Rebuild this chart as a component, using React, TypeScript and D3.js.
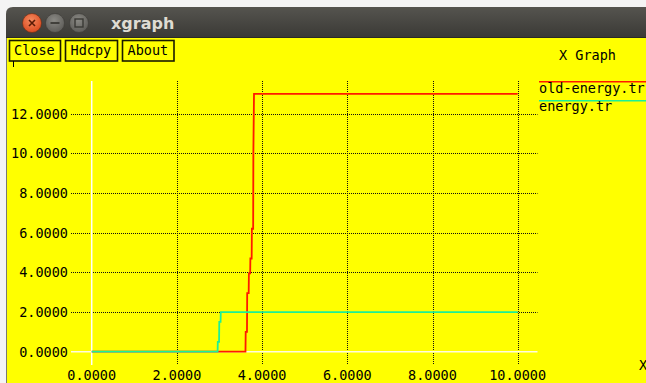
import React from "react";
import * as d3 from "d3";

// ---- data ----
const xTicks = [0, 2, 4, 6, 8, 10];
const yTicks = [0, 2, 4, 6, 8, 10, 12];
const seriesNames = ["old-energy.tr", "energy.tr"];
const oldX = [0, 3.61, 3.615, 3.645, 3.65, 3.685, 3.69, 3.72, 3.725, 3.755, 3.76, 3.79, 3.795, 3.81, 10];
const oldY = [0, 0, 1.0, 1.0, 2.95, 2.95, 3.95, 3.95, 4.7, 4.7, 6.2, 6.2, 10.0, 13.0, 13.0];
const newX = [0, 2.955, 2.96, 2.99, 2.995, 3.025, 3.03, 10];
const newY = [0, 0, 0.5, 0.5, 1.5, 1.5, 2.0, 2.0];
const buttonLabels = ["Close", "Hdcpy", "About"];

const W = 646;
const H = 383;
const MONO = "'DejaVu Sans Mono', monospace";
const RED = "#ff1a00";
const GREEN = "#1cf096";

export default function App() {
  const xs = d3.scaleLinear().domain([0, 10]).range([91.7, 517.7]);
  const ys = d3.scaleLinear().domain([0, 12]).range([351.7, 113.7]);
  const line = d3
    .line<[number, number]>()
    .x((d) => xs(d[0]))
    .y((d) => ys(d[1]));
  const oldPts = oldX.map((x, i) => [x, oldY[i]] as [number, number]);
  const newPts = newX.map((x, i) => [x, newY[i]] as [number, number]);

  const gridLeft = 71;
  const gridRight = 537.5;
  const gridTop = 81;
  const gridBottom = 365;

  const btnBoxes = [
    { x: 9.5, w: 51, tx: 14 },
    { x: 65.5, w: 52, tx: 70.5 },
    { x: 122.5, w: 51.5, tx: 127.5 },
  ];

  const fmt = d3.format(".4f");

  return (
    <svg
      width={W}
      height={H}
      style={{ position: "absolute", left: 0, top: 0, display: "block" }}
      xmlns="http://www.w3.org/2000/svg"
    >
      <defs>
        <linearGradient id="tb" x1="0" y1="0" x2="0" y2="1">
          <stop offset="0" stopColor="#55544f" />
          <stop offset="1" stopColor="#3a3935" />
        </linearGradient>
        <radialGradient id="cls" cx="0.45" cy="0.35" r="0.7">
          <stop offset="0" stopColor="#f58a5e" />
          <stop offset="1" stopColor="#d9461c" />
        </radialGradient>
        <radialGradient id="gbtn" cx="0.45" cy="0.35" r="0.7">
          <stop offset="0" stopColor="#8a8984" />
          <stop offset="1" stopColor="#5a5955" />
        </radialGradient>
      </defs>
      {/* outer background */}
      <rect x={0} y={0} width={W} height={H} fill="#f4f4f4" />
      {/* title bar */}
      <path d={`M6,38 L6,14 Q6,7 13,7 L${W},7 L${W},38 Z`} fill="url(#tb)" />
      <line x1={6} y1={37.5} x2={W} y2={37.5} stroke="#2a2a26" strokeWidth={1} />
      <circle cx={32} cy={23} r={9.5} fill="url(#cls)" stroke="#6a2a10" strokeWidth={0.6} />
      <path d="M29,20 L35,26 M35,20 L29,26" stroke="#5a1a05" strokeWidth={1.6} />
      <circle cx={55} cy={23} r={9.5} fill="url(#gbtn)" stroke="#3a3935" strokeWidth={0.6} />
      <line x1={50.5} y1={23} x2={59.5} y2={23} stroke="#3a3935" strokeWidth={1.8} />
      <circle cx={79} cy={23} r={9.5} fill="url(#gbtn)" stroke="#3a3935" strokeWidth={0.6} />
      <rect x={75} y={19} width={8} height={8} fill="none" stroke="#3a3935" strokeWidth={1.4} />
      <text
        x={111}
        y={29}
        fill="#dfdbd2"
        fontFamily="'DejaVu Sans', sans-serif"
        fontWeight="bold"
        fontSize={16}
      >
        xgraph
      </text>
      {/* window body */}
      <rect x={6} y={38} width={W - 6} height={H - 38} fill="#ffff00" />
      <line x1={6.5} y1={38} x2={6.5} y2={H} stroke="#7a7a70" strokeWidth={1} />

      {/* buttons */}
      {buttonLabels.map((b, i) => (
        <g key={b}>
          <rect
            x={btnBoxes[i].x}
            y={40.5}
            width={btnBoxes[i].w}
            height={20.5}
            fill="none"
            stroke="#1a1a00"
            strokeWidth={1.6}
          />
          <text x={btnBoxes[i].tx} y={55} fontFamily={MONO} fontSize={13.5} fill="#000">
            {b}
          </text>
        </g>
      ))}
      <line x1={13.5} y1={61} x2={13.5} y2={67} stroke="#000" strokeWidth={1} />

      <text x={559} y={59.5} fontFamily={MONO} fontSize={13.5} fill="#000">
        X Graph
      </text>

      {/* grid */}
      {yTicks
        .filter((v) => v !== 0)
        .map((v) => (
          <line
            key={"hy" + v}
            x1={gridLeft}
            x2={gridRight}
            y1={Math.round(ys(v)) + 0.5}
            y2={Math.round(ys(v)) + 0.5}
            stroke="#111"
            strokeWidth={1}
            strokeDasharray="1,1"
          />
        ))}
      {xTicks
        .filter((v) => v !== 0)
        .map((v) => (
          <line
            key={"vx" + v}
            x1={Math.round(xs(v)) + 0.5}
            x2={Math.round(xs(v)) + 0.5}
            y1={gridTop}
            y2={gridBottom}
            stroke="#111"
            strokeWidth={1}
            strokeDasharray="1,1"
          />
        ))}
      {/* zero lines */}
      <line
        x1={gridLeft}
        x2={gridRight}
        y1={ys(0)}
        y2={ys(0)}
        stroke="#fffbe0"
        strokeWidth={1.5}
      />
      <line
        x1={xs(0)}
        x2={xs(0)}
        y1={gridTop}
        y2={gridBottom}
        stroke="#ffffff"
        strokeWidth={1.5}
      />

      {/* tick labels */}
      {yTicks.map((v) => (
        <text
          key={"yl" + v}
          x={68}
          y={ys(v) + 4.8}
          textAnchor="end"
          fontFamily={MONO}
          fontSize={13.5}
          fill="#000"
        >
          {fmt(v)}
        </text>
      ))}
      {xTicks.map((v) => (
        <text
          key={"xl" + v}
          x={xs(v)}
          y={380}
          textAnchor="middle"
          fontFamily={MONO}
          fontSize={13.5}
          fill="#000"
        >
          {fmt(v)}
        </text>
      ))}
      <text x={639} y={370} fontFamily={MONO} fontSize={13.5} fill="#000">
        X
      </text>

      {/* data */}
      <path d={line(oldPts) || ""} fill="none" stroke={RED} strokeWidth={1.8} />
      <path d={line(newPts) || ""} fill="none" stroke={GREEN} strokeWidth={1.8} />

      {/* legend */}
      <line x1={539} x2={W} y1={81.7} y2={81.7} stroke={RED} strokeWidth={1.5} />
      <text x={539} y={93.3} fontFamily={MONO} fontSize={13.5} fill="#000">
        {seriesNames[0]}
      </text>
      <line x1={539} x2={W} y1={100.7} y2={100.7} stroke={GREEN} strokeWidth={1.5} />
      <text x={539} y={110.7} fontFamily={MONO} fontSize={13.5} fill="#000">
        {seriesNames[1]}
      </text>
    </svg>
  );
}
